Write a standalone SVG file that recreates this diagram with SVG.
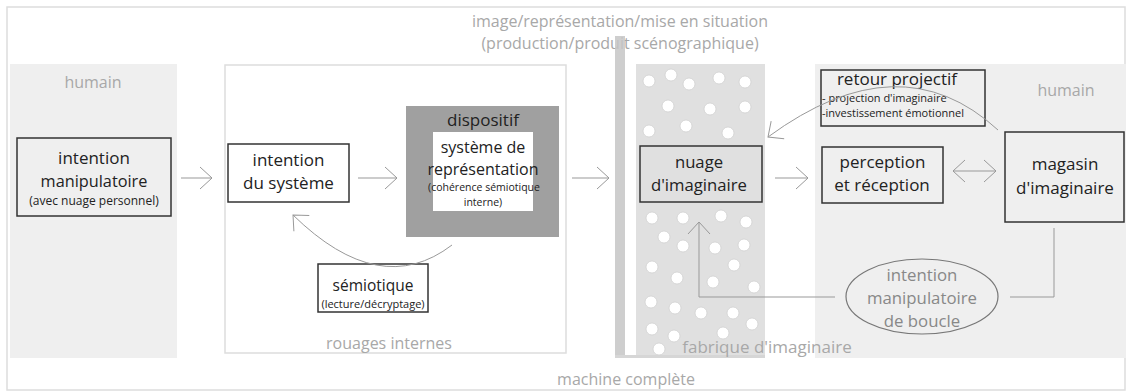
<svg xmlns="http://www.w3.org/2000/svg" width="1129" height="392" viewBox="0 0 1129 392">
<defs>
<style>
text{font-family:"Open Sans","Noto Sans","Liberation Sans",sans-serif;text-anchor:middle}
.lab{fill:#222;font-size:17px}
.sm{fill:#222;font-size:11.5px}
.grey{fill:#a8a8a8;font-size:16px}
.box{fill:none;stroke:#333;stroke-width:1.5}
.wbox{fill:#fff;stroke:#333;stroke-width:1.5}
.con{fill:none;stroke:#999;stroke-width:1}
.dot{fill:#fff;stroke:#d0d0d0;stroke-width:0.8}
</style>
<marker id="ah" viewBox="0 0 14 24" refX="13" refY="12" markerWidth="14" markerHeight="24" markerUnits="userSpaceOnUse" orient="auto-start-reverse">
<path d="M1,1 L13,12 L1,23" fill="none" stroke="#999" stroke-width="1"/>
</marker>
</defs>
<rect width="1129" height="392" fill="#fff"/>
<g id="machine-complete">
<rect x="7" y="7" width="1118" height="383" fill="none" stroke="#ddd" stroke-width="1.5"/>
<text class="grey" x="626" y="385">machine complète</text>
</g>
<g id="image-representation">
<text class="grey" x="620" y="27">image/représentation/mise en situation</text>
<text class="grey" x="620" y="49">(production/produit scénographique)</text>
</g>
<g id="humain-gauche">
<rect x="10" y="64" width="167" height="294" fill="#efefef"/>
<text class="grey" x="93" y="88">humain</text>
</g>
<g id="rouages-internes">
<rect x="225" y="65" width="341" height="288" fill="none" stroke="#ddd" stroke-width="1.5"/>
<text class="grey" x="389" y="349">rouages internes</text>
</g>
<g id="humain-droite">
<rect x="815" y="64" width="311" height="294" fill="#efefef"/>
<text class="grey" x="1066" y="96">humain</text>
</g>
<g id="fabrique-imaginaire">
<rect x="636" y="64" width="129" height="294" fill="#e0e0e0"/>
<rect x="615" y="36" width="10" height="322" fill="#c6c6c6" opacity="0.85"/>
<rect x="615" y="355" width="150" height="3" fill="#d6d6d6"/>
<g>
<circle class="dot" cx="649" cy="81" r="6"/><circle class="dot" cx="671" cy="75" r="6"/><circle class="dot" cx="689" cy="84" r="6"/><circle class="dot" cx="719" cy="78" r="6"/><circle class="dot" cx="745" cy="82" r="6"/>
<circle class="dot" cx="668" cy="106" r="6"/><circle class="dot" cx="710" cy="109" r="6"/><circle class="dot" cx="745" cy="107" r="6"/>
<circle class="dot" cx="649" cy="131" r="6"/><circle class="dot" cx="686" cy="126" r="6"/><circle class="dot" cx="728" cy="133" r="6"/>
<circle class="dot" cx="652" cy="218" r="6"/><circle class="dot" cx="683" cy="218" r="6"/><circle class="dot" cx="721" cy="216" r="6"/><circle class="dot" cx="746" cy="222" r="6"/>
<circle class="dot" cx="664" cy="237" r="6"/><circle class="dot" cx="683" cy="246" r="6"/><circle class="dot" cx="715" cy="248" r="6"/><circle class="dot" cx="744" cy="245" r="6"/>
<circle class="dot" cx="652" cy="267" r="6"/><circle class="dot" cx="677" cy="278" r="6"/><circle class="dot" cx="734" cy="265" r="6"/><circle class="dot" cx="713" cy="282" r="6"/><circle class="dot" cx="754" cy="287" r="6"/>
<circle class="dot" cx="651" cy="302" r="6"/><circle class="dot" cx="675" cy="308" r="6"/><circle class="dot" cx="701" cy="313" r="6"/><circle class="dot" cx="733" cy="313" r="6"/>
<circle class="dot" cx="652" cy="329" r="6"/><circle class="dot" cx="674" cy="336" r="6"/><circle class="dot" cx="723" cy="333" r="6"/><circle class="dot" cx="752" cy="324" r="6"/><circle class="dot" cx="659" cy="349" r="6"/>
</g>
<text class="grey" x="767" y="353" style="font-size:17px">fabrique d'imaginaire</text>
</g>
<g id="intention-manipulatoire">
<rect class="box" x="17" y="138" width="154" height="78"/>
<text class="lab" x="94" y="163.5">intention</text>
<text class="lab" x="94" y="187" style="font-size:16.3px">manipulatoire</text>
<text class="sm" x="94" y="204.5" style="font-size:12px">(avec nuage personnel)</text>
</g>
<g id="intention-systeme">
<rect class="wbox" x="228" y="144" width="121" height="58"/>
<text class="lab" x="288.5" y="165.5">intention</text>
<text class="lab" x="288.5" y="189">du système</text>
</g>
<g id="dispositif">
<rect x="406" y="106" width="153" height="131" fill="#a0a0a0"/>
<rect x="433" y="132" width="100" height="79" fill="#fff"/>
<text class="lab" x="483" y="126">dispositif</text>
<text class="lab" x="483" y="153" style="font-size:16px">système de</text>
<text class="lab" x="483" y="174.8" style="font-size:16px">représentation</text>
<text class="sm" x="484" y="191" style="font-size:10.5px">(cohérence sémiotique</text>
<text class="sm" x="483" y="205.5" style="font-size:10.5px">interne)</text>
</g>
<g id="semiotique">
<rect class="wbox" x="318" y="264" width="110" height="48"/>
<text class="lab" x="373" y="291" style="font-size:15.5px">sémiotique</text>
<text class="sm" x="373" y="307.5" style="font-size:11px">(lecture/décryptage)</text>
</g>
<g id="nuage-imaginaire">
<rect class="box" x="640" y="146" width="122" height="56"/>
<text class="lab" x="699" y="168" style="font-size:16.7px">nuage</text>
<text class="lab" x="699" y="191" style="font-size:16.7px">d'imaginaire</text>
</g>
<g id="perception-reception">
<rect class="box" x="822" y="147" width="121" height="56"/>
<text class="lab" x="882.5" y="167.5">perception</text>
<text class="lab" x="882" y="191">et réception</text>
</g>
<g id="magasin-imaginaire">
<rect class="box" x="1005" y="132" width="119" height="90"/>
<text class="lab" x="1065" y="170">magasin</text>
<text class="lab" x="1065" y="194">d'imaginaire</text>
</g>
<g id="retour-projectif">
<rect class="box" x="821" y="70" width="164" height="56"/>
<text class="lab" x="897" y="85">retour projectif</text>
<text class="sm" x="822" y="102" style="text-anchor:start;font-size:11px">- projection d'imaginaire</text>
<text class="sm" x="822" y="117" style="text-anchor:start;font-size:11px">-investissement émotionnel</text>
</g>
<g id="intention-boucle">
<ellipse cx="922" cy="296.5" rx="76" ry="37.5" fill="none" stroke="#777" stroke-width="1.2"/>
<text class="lab" x="922" y="280.5" style="fill:#888;font-size:16.8px">intention</text>
<text class="lab" x="922" y="303.5" style="fill:#888;font-size:16.8px">manipulatoire</text>
<text class="lab" x="922" y="326.5" style="fill:#888;font-size:16.8px">de boucle</text>
</g>
<g id="connectors">
<path class="con" d="M181,178 H212" marker-end="url(#ah)"/>
<path class="con" d="M358,178 H397" marker-end="url(#ah)"/>
<path class="con" d="M572,178 H609" marker-end="url(#ah)"/>
<path class="con" d="M775,178 H808" marker-end="url(#ah)"/>
<path class="con" d="M953,171 H996" marker-start="url(#ah)" marker-end="url(#ah)"/>
<path class="con" d="M452,245 Q380,300 293,215" marker-end="url(#ah)"/>
<path class="con" d="M998,130 Q900,40 768,137" marker-end="url(#ah)"/>
<path class="con" d="M1054,228 V297 H1010"/>
<path class="con" d="M835,297 H699 V222" marker-end="url(#ah)"/>
</g>
</svg>
